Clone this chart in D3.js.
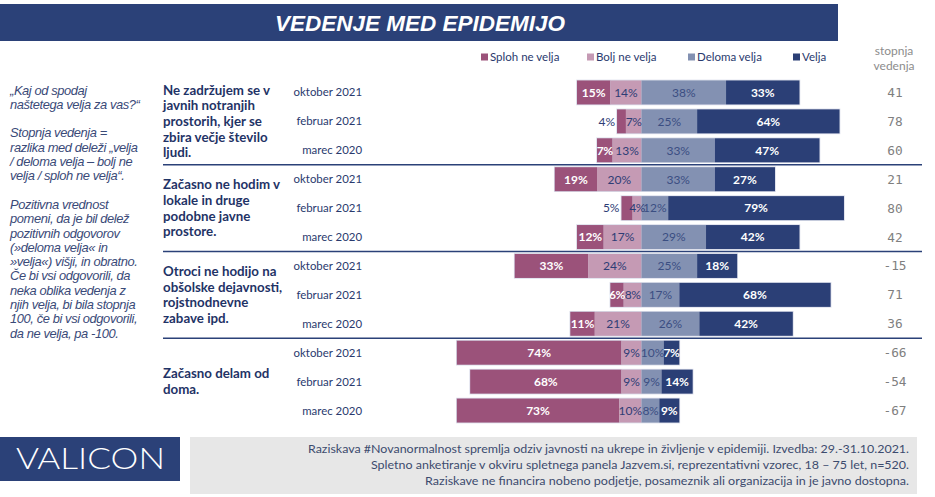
<!DOCTYPE html>
<html>
<head>
<meta charset="utf-8">
<script src="https://cdn.jsdelivr.net/npm/d3@7"></script>
<style>
  html, body { margin: 0; padding: 0; background: #fff; }
  svg { display: block; }
</style>
</head>
<body>
<svg id="chart" width="935" height="497"></svg>
<script>
// ---------------- DATA ----------------
const title = "VEDENJE MED EPIDEMIJO";
const categories = ["Sploh ne velja", "Bolj ne velja", "Deloma velja", "Velja"];
const groupLabels = [
  ["Ne zadržujem se v", "javnih  notranjih", "prostorih, kjer se", "zbira večje število", "ljudi."],
  ["Začasno  ne hodim v", "lokale in druge", "podobne javne", "prostore."],
  ["Otroci ne hodijo na", "obšolske dejavnosti,", "rojstnodnevne", "zabave ipd."],
  ["Začasno delam od", "doma."]
];
const periods = ["oktober 2021", "februar 2021", "marec 2020"];
// values per row (group x period), in order
const splohNeVelja = [15, 4, 7, 19, 5, 12, 33, 6, 11, 74, 68, 73];
const boljNeVelja  = [14, 7, 13, 20, 4, 17, 24, 8, 21, 9, 9, 10];
const delomaVelja  = [38, 25, 33, 33, 12, 29, 25, 17, 26, 10, 9, 8];
const velja        = [33, 64, 47, 27, 79, 42, 18, 68, 42, 7, 14, 9];
const stopnja      = [41, 78, 60, 21, 80, 42, -15, 71, 36, -66, -54, -67];
const stopnjaHeader = ["stopnja", "vedenja"];
const noteLines = [
  "„Kaj od spodaj",
  "naštetega velja za vas?“",
  "",
  "Stopnja vedenja =",
  "razlika med deleži „velja",
  "/ deloma velja – bolj ne",
  "velja / sploh ne velja“.",
  "",
  "Pozitivna vrednost",
  "pomeni, da je bil delež",
  "pozitivnih odgovorov",
  "(»deloma velja« in",
  "»velja«) višji, in obratno.",
  "Če bi vsi odgovorili, da",
  "neka oblika vedenja z",
  "njih velja, bi bila stopnja",
  "100, če bi vsi odgovorili,",
  "da ne velja, pa -100."
];
const footerLines = [
  "Raziskava #Novanormalnost spremlja odziv javnosti na ukrepe in življenje v epidemiji. Izvedba: 29.-31.10.2021.",
  "Spletno anketiranje v okviru spletnega panela Jazvem.si, reprezentativni vzorec, 18 – 75 let, n=520.",
  "Raziskave ne financira nobeno podjetje, posameznik ali organizacija in je javno dostopna."
];
const logoText = "VALICON";

// ---------------- STYLE ----------------
const colors = ["#9B527A", "#C59AB4", "#8391B2", "#2B3F76"];
const navy = "#2B4178";
const textNavy = "#2A3A6E";
const calibri = "Lato, 'Open Sans', sans-serif";

const svg = d3.select("#chart");

// rows
const rows = [];
groupLabels.forEach((g, gi) => periods.forEach((p, pi) => {
  const i = gi * periods.length + pi;
  rows.push({
    id: i, group: gi, period: p,
    vals: [splohNeVelja[i], boljNeVelja[i], delomaVelja[i], velja[i]],
    stop: stopnja[i]
  });
}));

const x = d3.scaleLinear().domain([-100, 100]).range([641.5 - 222.5, 641.5 + 222.5]);
const y = d3.scaleBand().domain(rows.map(r => r.id)).range([78, 425])
  .paddingInner(0.17).paddingOuter(0.085);

// ---------- Title ----------
svg.append("rect").attr("x", 0).attr("y", 4).attr("width", 838).attr("height", 37).attr("fill", navy);
svg.append("text").text(title)
  .attr("x", 420).attr("y", 30.5).attr("text-anchor", "middle")
  .attr("font-family", "'Liberation Sans', Arial, sans-serif")
  .attr("font-weight", "bold").attr("font-style", "italic")
  .attr("font-size", 22.5).attr("fill", "#fff")
  .attr("textLength", 290).attr("lengthAdjust", "spacingAndGlyphs");

// ---------- Legend ----------
const legendX = [481, 587, 688, 793];
const legend = svg.append("g");
categories.forEach((c, i) => {
  legend.append("rect").attr("x", legendX[i]).attr("y", 53.5).attr("width", 7).attr("height", 7).attr("fill", colors[i]);
  legend.append("text").text(c).attr("x", legendX[i] + 9).attr("y", 61)
    .attr("font-family", calibri).attr("font-size", 11.5).attr("fill", textNavy);
});

// ---------- Stopnja header ----------
stopnjaHeader.forEach((t, i) => {
  svg.append("text").text(t).attr("x", 894).attr("y", 55 + i * 14.5).attr("text-anchor", "middle")
    .attr("font-family", calibri).attr("font-size", 12).attr("fill", "#8C8C8C");
});

// ---------- Left note ----------
const note = svg.append("text").attr("font-family", "'Liberation Sans', Arial, sans-serif")
  .attr("font-style", "italic").attr("font-size", 12.9).attr("fill", "#3A4A78")
  .attr("letter-spacing", -0.4);
noteLines.forEach((l, i) => {
  if (!l) return;
  note.append("tspan").attr("x", 10).attr("y", 94.5 + i * 14.3).text(l);
});

// ---------- Group separators ----------
const step = y.step();
for (let g = 1; g < groupLabels.length; g++) {
  const yy = y(rows[g * 3].id) - (step - y.bandwidth()) / 2;
  svg.append("line").attr("x1", 163).attr("x2", 922).attr("y1", yy).attr("y2", yy)
    .attr("stroke", navy).attr("stroke-width", 1.5);
}

// ---------- Group labels ----------
const lh = 15.6;
groupLabels.forEach((lines, gi) => {
  const top = y(rows[gi * 3].id);
  const bot = y(rows[gi * 3 + 2].id) + y.bandwidth();
  const cy = (top + bot) / 2;
  const t = svg.append("text").attr("font-family", calibri).attr("font-weight", "bold")
    .attr("font-size", 13.3).attr("fill", "#1F3366");
  lines.forEach((l, li) => {
    t.append("tspan").attr("x", 163)
      .attr("y", cy + (li - (lines.length - 1) / 2) * lh + 4.6)
      .text(l);
  });
});

// ---------- Period labels ----------
svg.append("g").selectAll("text").data(rows).join("text")
  .attr("x", 362).attr("y", d => y(d.id) + y.bandwidth() / 2 + 4)
  .attr("text-anchor", "end").attr("font-family", calibri).attr("font-size", 11.4)
  .attr("fill", textNavy).text(d => d.period);

// ---------- Bars ----------
const segs = [];
rows.forEach(r => {
  const [s, b, d, v] = r.vals;
  segs.push({ r, k: 0, v: s, x0: -(b + s), x1: -b });
  segs.push({ r, k: 1, v: b, x0: -b, x1: 0 });
  segs.push({ r, k: 2, v: d, x0: 0, x1: d });
  segs.push({ r, k: 3, v: v, x0: d, x1: d + v });
});

const barG = svg.append("g");
barG.selectAll("rect.outline").data(rows).join("rect").attr("class", "outline")
  .attr("x", d => x(-(d.vals[0] + d.vals[1])) - 0.8)
  .attr("y", d => y(d.id) - 0.8)
  .attr("width", d => x(d.vals[2] + d.vals[3]) - x(-(d.vals[0] + d.vals[1])) + 1.6)
  .attr("height", y.bandwidth() + 1.6)
  .attr("fill", "#DADDEA");
barG.selectAll("rect.seg").data(segs).join("rect").attr("class", "seg")
  .attr("x", d => x(d.x0)).attr("y", d => y(d.r.id))
  .attr("width", d => x(d.x1) - x(d.x0)).attr("height", y.bandwidth())
  .attr("fill", d => colors[d.k]);

// labels
const outside = d => d.k === 0 && d.v <= 5;
barG.selectAll("text.lab").data(segs).join("text").attr("class", "lab")
  .attr("x", d => outside(d) ? x(d.x0) - 2 : (x(d.x0) + x(d.x1)) / 2)
  .attr("y", d => y(d.r.id) + y.bandwidth() / 2 + 4.3)
  .attr("text-anchor", d => outside(d) ? "end" : "middle")
  .attr("font-family", calibri).attr("font-size", 12)
  .attr("letter-spacing", d => (x(d.x1) - x(d.x0) < 20 && !outside(d)) ? -0.4 : 0)
  .attr("font-weight", d => ((d.k === 0 && d.v > 5) || d.k === 3) ? "bold" : "normal")
  .attr("fill", d => {
    if ((d.k === 0 && d.v > 5) || d.k === 3) return "#fff";
    if (d.k === 2) return "#3B4E82";
    return "#2E3D75";
  })
  .text(d => d.v + "%");

// ---------- Stopnja values ----------
svg.append("g").selectAll("text").data(rows).join("text")
  .attr("x", 895).attr("y", d => y(d.id) + y.bandwidth() / 2 + 4.5)
  .attr("text-anchor", "middle").attr("font-family", "'DejaVu Sans Mono', monospace")
  .attr("font-size", 12.8).attr("fill", "#7F7F7F").text(d => d.stop);

// ---------- Footer ----------
svg.append("rect").attr("x", 0).attr("y", 437).attr("width", 180).attr("height", 44).attr("fill", navy);
svg.append("text").text(logoText).attr("x", 16).attr("y", 469)
  .attr("font-family", "Lato, 'Open Sans', sans-serif").attr("font-weight", 300)
  .attr("font-size", 29).attr("fill", "#fff")
  .attr("textLength", 149).attr("lengthAdjust", "spacingAndGlyphs");
svg.append("rect").attr("x", 190).attr("y", 437).attr("width", 727).attr("height", 57).attr("fill", "#E7E7E7");
const footW = [601, 538, 484];
footerLines.forEach((l, i) => {
  svg.append("text").text(l).attr("x", 909).attr("y", 452.5 + i * 16).attr("text-anchor", "end")
    .attr("font-family", calibri).attr("font-size", 11.5).attr("fill", "#3C4B6E")
    .attr("textLength", footW[i]).attr("lengthAdjust", "spacingAndGlyphs");
});
</script>
</body>
</html>
